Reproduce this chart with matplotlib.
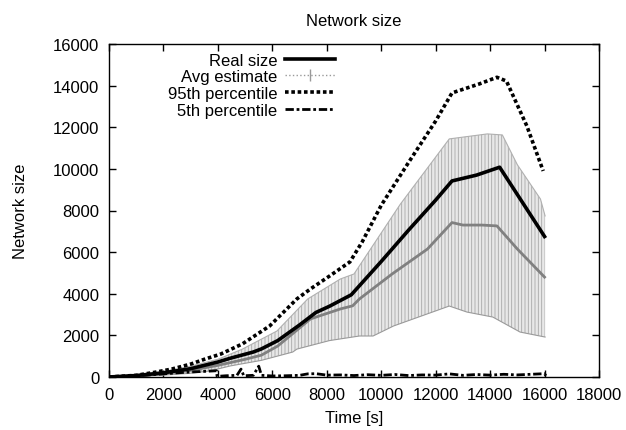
import matplotlib
matplotlib.use("Agg")
import matplotlib.pyplot as plt
from matplotlib.lines import Line2D
import numpy as np

plt.rcParams['font.family'] = ['Liberation Sans', 'DejaVu Sans']
plt.rcParams['hatch.linewidth'] = 0.6

# Real size
t_real = [0, 1000, 2000, 3000, 4000, 4450, 5300, 5600, 6200, 7000, 7600, 8100, 8900,
          10000, 11000, 12000, 12600, 13500, 14350, 16000]
real = [0, 70, 200, 400, 720, 900, 1200, 1350, 1750, 2500, 3100, 3400, 3950,
        5550, 7050, 8500, 9420, 9700, 10080, 6750]

# 95th percentile
t_p95 = [0, 1000, 1700, 2300, 3000, 3500, 4100, 4900, 5900, 6900, 7400, 8100, 8850,
         9300, 10000, 11000, 12000, 12600, 13600, 14250, 14600, 15350, 15950]
p95 = [0, 80, 230, 380, 620, 850, 1100, 1590, 2450, 3750, 4230, 4850, 5530,
       6490, 8250, 10300, 12300, 13650, 14080, 14400, 14220, 12060, 9900]

# Average estimate (centre line)
t_avg = [0, 1000, 2000, 3000, 4000, 5000, 5600, 6200, 7400, 8500, 8950, 9200, 10400,
         11700, 12600, 13000, 13700, 14250, 15000, 16000]
avg = [0, 50, 160, 320, 560, 850, 1050, 1490, 2790, 3270, 3420, 3750, 4950,
       6150, 7420, 7300, 7300, 7260, 6150, 4800]

# Error bar extent of the average estimate
t_band_lo = [0, 1000, 2000, 3000, 3700, 4450, 5600, 6750, 6900, 8100, 8500, 9200,
             9700, 10450, 12500, 13150, 14100, 15100, 16020]
band_lo = [0, 30, 90, 180, 290, 530, 800, 1200, 1340, 1750, 1830, 1970,
           1970, 2450, 3410, 3120, 2880, 2160, 1920]
t_band_hi = [0, 1000, 2000, 3000, 4000, 4900, 6170, 7300, 8500, 9000, 10700, 12500,
             13900, 14450, 15000, 15850, 16020]
band_hi = [0, 90, 260, 520, 850, 1340, 2210, 3750, 4710, 4950, 8300, 11440,
           11680, 11630, 10200, 8550, 7740]

# 5th percentile
t_p5 = [0, 500, 1000, 1500, 2000, 2500, 3000, 3500, 3950, 3970, 4300, 4700, 4850, 4950,
        5300, 5500, 5600, 6000, 6500, 7000, 7300, 7600, 8000, 8500, 9000, 9500, 10000,
        10500, 11000, 11500, 12000, 12500, 13000, 13500, 14000, 14500, 15000, 15500,
        16000, 16050]
p5 = [0, 20, 60, 100, 150, 200, 240, 270, 300, 30, 60, 80, 380, 60,
      80, 520, 80, 50, 60, 80, 150, 160, 90, 100, 70, 110, 80,
      120, 70, 100, 90, 150, 80, 120, 90, 130, 100, 130,
      160, 60]

x_ticks = list(range(0, 18001, 2000))
y_ticks = list(range(0, 16001, 2000))

fig = plt.figure(figsize=(6.26, 4.31), dpi=100)
ax = fig.add_axes([109/626, 53/431, 490/626, 333/431])

# band of dense error bars
tb = sorted(set(t_band_lo) | set(t_band_hi))
lo_i = np.interp(tb, t_band_lo, band_lo)
hi_i = np.interp(tb, t_band_hi, band_hi)
ax.fill_between(tb, lo_i, hi_i, facecolor='#e8e8e8', edgecolor='#a8a8a8',
                hatch='|||||', linewidth=0, zorder=1)
ax.plot(t_band_lo, band_lo, color='#9a9a9a', lw=0.8, zorder=2)
ax.plot(t_band_hi, band_hi, color='#b0b0b0', lw=0.8, zorder=2)
ax.plot(t_avg, avg, color='#808080', lw=2.0, zorder=3)

ax.plot(t_real, real, color='black', lw=2.6, zorder=5)
ax.plot(t_p95, p95, color='black', lw=2.6, linestyle=(0, (1, 0.75)),
        dash_capstyle='butt', zorder=5)
ax.plot(t_p5, p5, color='black', lw=2.0, linestyle=(0, (3, 1, 1, 1)),
        dash_capstyle='butt', zorder=5)

ax.set_xlim(0, 18000)
ax.set_ylim(0, 16000)
ax.set_xticks(x_ticks)
ax.set_yticks(y_ticks)
ax.tick_params(direction='in', top=True, right=True, length=5, width=1,
               labelsize=12, pad=7)
for s in ax.spines.values():
    s.set_linewidth(1)

ax.set_title('Network size', fontsize=12, pad=14)
ax.set_xlabel('Time [s]', fontsize=12, labelpad=6)
ax.set_ylabel('Network size', fontsize=12, labelpad=18)

handles = [
    Line2D([], [], color='black', lw=2.6),
    Line2D([], [], color='#999999', lw=1, ls=':', marker='|', markersize=8,
           markeredgewidth=1),
    Line2D([], [], color='black', lw=2.6, linestyle=(0, (1, 0.75)), dash_capstyle='butt'),
    Line2D([], [], color='black', lw=2.0, linestyle=(0, (3, 1, 1, 1)), dash_capstyle='butt'),
]
labels = ['Real size', 'Avg estimate', '95th percentile', '5th percentile']
ax.legend(handles, labels, loc='upper right', bbox_to_anchor=(0.468, 0.984),
          frameon=False, markerfirst=False, fontsize=12, handlelength=3.0,
          handletextpad=0.45, labelspacing=0.1, borderpad=0.2, borderaxespad=0,
          numpoints=1)

fig.savefig('out.png', dpi=100)
